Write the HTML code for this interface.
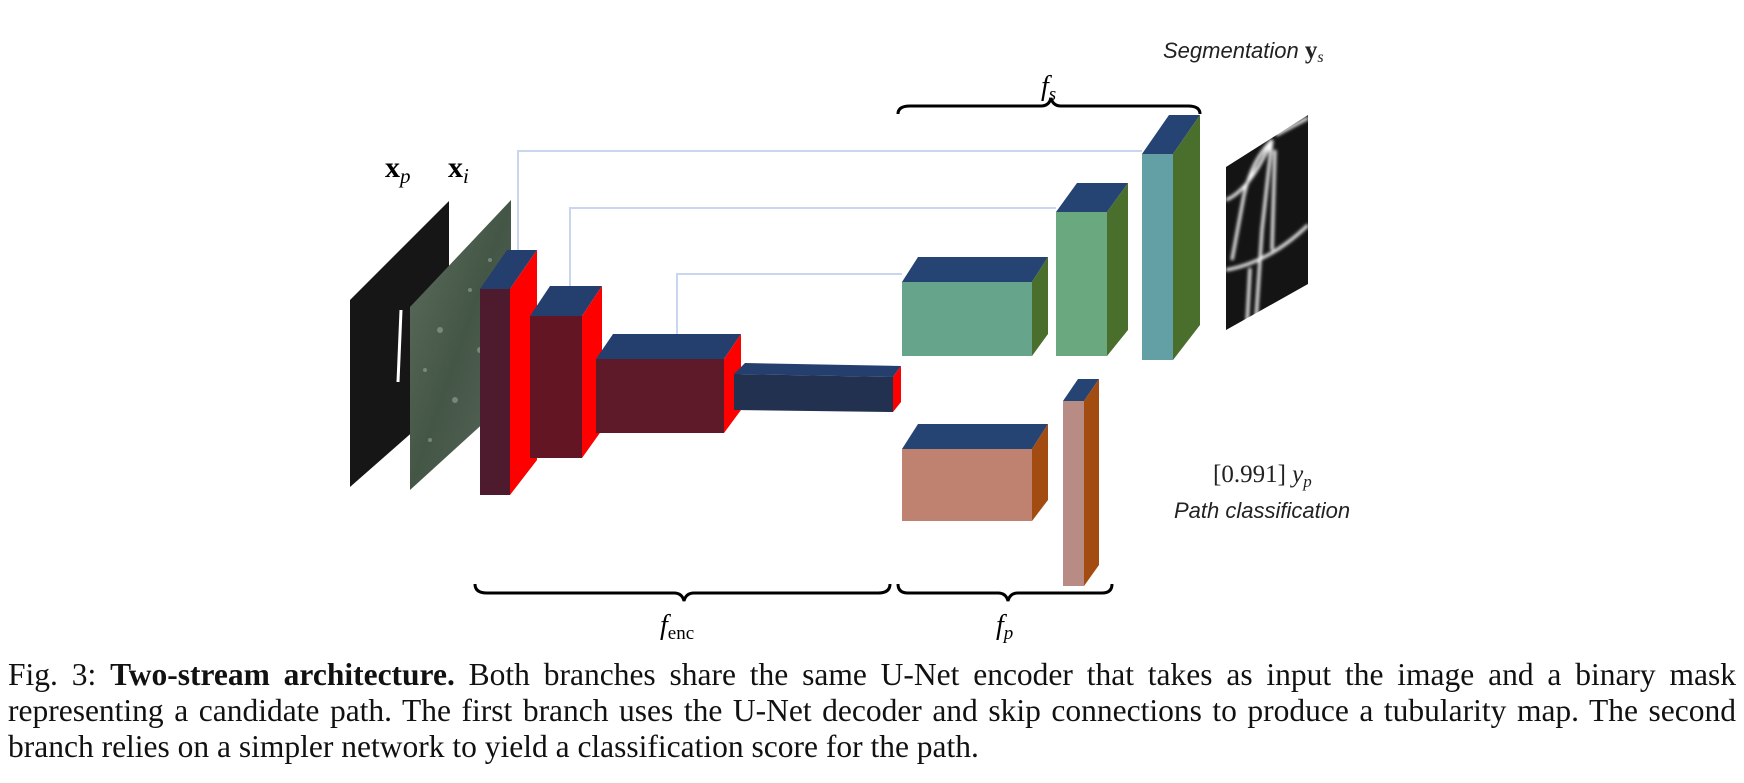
<!DOCTYPE html>
<html><head><meta charset="utf-8"><style>
html,body{margin:0;padding:0;background:#fff;width:1744px;height:783px;overflow:hidden}
svg{position:absolute;left:0;top:0}
.cap{position:absolute;left:8px;top:657px;width:1728px;font-family:"Liberation Serif",serif;font-size:31.5px;line-height:36px;color:#111}
.cap div{text-align:justify;text-align-last:justify;white-space:nowrap}
.cap div.l{text-align-last:left}
</style></head><body>
<svg width="1744" height="650">
<defs>
<filter id="bl"><feGaussianBlur stdDeviation="1.6"/></filter>
<linearGradient id="sat" x1="0" y1="0" x2="1" y2="1"><stop offset="0" stop-color="#5e6e60"/><stop offset="0.5" stop-color="#445646"/><stop offset="1" stop-color="#58685c"/></linearGradient>
</defs>
<g stroke="#c8d7ef" stroke-width="2" fill="none">
<polyline points="518,252 518,151 1142,151"/>
<polyline points="570,288 570,208 1056,208"/>
<polyline points="677,336 677,274 902,274"/>
</g>
<g>
<polygon points="350,300 449,201 449,400 350,487" fill="#161616"/>
<line x1="401" y1="310" x2="398" y2="382" stroke="#fff" stroke-width="3"/>
</g>
<g>
<polygon points="410,307 511,200 511,398 410,490" fill="url(#sat)"/>
<g fill="#9aa59c" opacity="0.6"><circle cx="440" cy="330" r="3"/><circle cx="470" cy="290" r="2"/><circle cx="455" cy="400" r="3"/><circle cx="490" cy="260" r="2"/><circle cx="430" cy="440" r="2"/><circle cx="480" cy="350" r="3"/><circle cx="425" cy="370" r="2"/><circle cx="500" cy="320" r="2"/></g>
</g>
<text x="385" y="177" font-family="Liberation Serif,serif" font-size="30" font-weight="bold">x<tspan font-style="italic" font-weight="normal" font-size="21" dy="6">p</tspan></text>
<text x="448" y="177" font-family="Liberation Serif,serif" font-size="30" font-weight="bold">x<tspan font-style="italic" font-weight="normal" font-size="21" dy="6">i</tspan></text>
<g>
<polygon points="480,289 510,289 537,250 507,250" fill="#243f6e"/>
<polygon points="510,289 537,250 537,460 510,495" fill="#ff0000"/>
<rect x="480" y="289" width="30" height="206" fill="#4e1a2e"/>
</g>
<g>
<polygon points="530,316 582,316 602,286 550,286" fill="#243f6e"/>
<polygon points="582,316 602,286 602,430 582,458" fill="#ff0000"/>
<rect x="530" y="316" width="52" height="142" fill="#631523"/>
</g>
<g>
<polygon points="596,359 724,359 741,334 613,334" fill="#243f6e"/>
<polygon points="724,359 741,334 741,410 724,433" fill="#ff0000"/>
<rect x="596" y="359" width="128" height="74" fill="#5e1a28"/>
</g>
<g>
<polygon points="734,374 745,363 901,366 893,377" fill="#243f6e"/>
<polygon points="734,374 893,377 893,412 734,410" fill="#22314f"/>
<polygon points="893,377 901,366 901,402 893,412" fill="#ff0000"/>
</g>
<g>
<polygon points="902,282 1032,282 1048,257 918,257" fill="#264473"/>
<polygon points="1032,282 1048,257 1048,334 1032,356" fill="#4a6e2c"/>
<rect x="902" y="282" width="130" height="74" fill="#66a48c"/>
</g>
<g>
<polygon points="1056,212 1107,212 1128,183 1077,183" fill="#264473"/>
<polygon points="1107,212 1128,183 1128,330 1107,356" fill="#4a6e2c"/>
<rect x="1056" y="212" width="51" height="144" fill="#6aa880"/>
</g>
<g>
<polygon points="1142,154 1173,154 1200,115 1169,115" fill="#264473"/>
<polygon points="1173,154 1200,115 1200,325 1173,360" fill="#4a6e2c"/>
<rect x="1142" y="154" width="31" height="206" fill="#63a0a6"/>
</g>
<g>
<polygon points="902,449 1032,449 1048,424 918,424" fill="#264473"/>
<polygon points="1032,449 1048,424 1048,500 1032,521" fill="#a34c12"/>
<rect x="902" y="449" width="130" height="72" fill="#c08270"/>
</g>
<g>
<polygon points="1063,401 1084,401 1099,379 1078,379" fill="#264473"/>
<polygon points="1084,401 1099,379 1099,565 1084,586" fill="#a34c12"/>
<rect x="1063" y="401" width="21" height="185" fill="#b88b85"/>
</g>
<g>
<polygon points="1226,167 1308,115 1308,284 1226,330" fill="#141414"/>
<g stroke="#fff" stroke-width="3" fill="none" filter="url(#bl)">
<path d="M1272,140 L1262,230 L1256,320"/>
<path d="M1232,260 L1244,195 Q1252,160 1272,140"/>
<path d="M1226,200 Q1250,190 1272,140"/>
<path d="M1226,270 Q1270,262 1308,225"/>
<path d="M1250,268 L1247,325"/>
<path d="M1276,135 L1308,118"/>
<path d="M1275,150 L1272,250"/>
</g>
</g>
<text x="1163" y="58" font-family="Liberation Sans,sans-serif" font-style="italic" font-size="22" fill="#222">Segmentation <tspan font-family="Liberation Serif,serif" font-style="normal" font-weight="bold" font-size="25">y</tspan><tspan font-family="Liberation Serif,serif" font-size="16" dy="4">s</tspan></text>
<text x="1213" y="482" font-family="Liberation Serif,serif" font-size="25" fill="#222">[0.991]   <tspan font-style="italic">y</tspan><tspan font-style="italic" font-size="17" dy="5">p</tspan></text>
<text x="1174" y="518" font-family="Liberation Sans,sans-serif" font-style="italic" font-size="22" fill="#222">Path classification</text>
<g fill="none" stroke="#000" stroke-width="3">
<path d="M898,114 Q898,106 910,106 L1041,106 Q1049,106 1051,98 Q1053,106 1061,106 L1188,106 Q1200,106 1200,114"/>
<path d="M475,584 Q475,593 487,593 L674,593 Q682,593 684,601 Q686,593 694,593 L878,593 Q890,593 890,584"/>
<path d="M898,584 Q898,593 908,593 L998,593 Q1006,593 1008,601 Q1010,593 1018,593 L1102,593 Q1112,593 1112,584"/>
</g>
<text x="1041" y="95" font-family="Liberation Serif,serif" font-style="italic" font-size="28">f<tspan font-size="19" dy="5">s</tspan></text>
<text x="660" y="634" font-family="Liberation Serif,serif" font-size="28"><tspan font-style="italic">f</tspan><tspan font-size="19" dy="5">enc</tspan></text>
<text x="996" y="634" font-family="Liberation Serif,serif" font-style="italic" font-size="28">f<tspan font-size="19" dy="5">p</tspan></text>
</svg>
<div class="cap">
<div>Fig. 3: <b>Two-stream architecture.</b> Both branches share the same U-Net encoder that takes as input the image and a binary mask</div>
<div>representing a candidate path. The first branch uses the U-Net decoder and skip connections to produce a tubularity map. The second</div>
<div class="l">branch relies on a simpler network to yield a classification score for the path.</div>
</div>
</body></html>
